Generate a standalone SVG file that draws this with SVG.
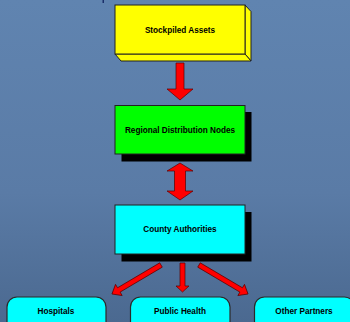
<svg xmlns="http://www.w3.org/2000/svg" width="350" height="322" viewBox="0 0 350 322">
<style>
.lbl{font-family:"Liberation Sans",Arial,sans-serif;font-weight:bold;font-size:8.2px;fill:#000;text-anchor:middle}
.arr{fill:#ff0000;stroke:#5a0000;stroke-width:0.7;stroke-linejoin:miter}
.box{stroke:#222;stroke-width:1}
.shadow{fill:#000}
.pill{fill:#00ffff;stroke:#2a2a2a;stroke-width:1.2}
</style>
<defs>
<linearGradient id="bg" x1="0" y1="0" x2="0" y2="1">
<stop offset="0" stop-color="#6084b0"/>
<stop offset="0.6" stop-color="#5a7ba6"/>
<stop offset="1" stop-color="#4b6990"/>
</linearGradient>
</defs>
<rect width="350" height="322" fill="url(#bg)"/>
<rect x="102.5" y="0" width="1.5" height="3" fill="#1a2f6a"/>

<g id="stockpiled-assets">
<polygon class="box" fill="#ffff00" points="245,5 251,11.5 251,61 245,54"/>
<polygon class="box" fill="#ffff00" points="115,54 245,54 251,61 121,61"/>
<rect class="box" fill="#ffff00" x="115" y="5" width="130" height="49"/>
<text class="lbl" x="180" y="33">Stockpiled Assets</text>
</g>

<g id="regional-distribution-nodes">
<rect class="shadow" x="121.5" y="112" width="130" height="49.5"/>
<rect class="box" fill="#00ff00" x="115" y="105.5" width="130" height="48.5"/>
<text class="lbl" x="180" y="133">Regional Distribution Nodes</text>
</g>

<g id="county-authorities">
<rect class="shadow" x="121.5" y="212" width="130" height="49.5"/>
<rect class="box" fill="#00ffff" x="115" y="205" width="130" height="49"/>
<text class="lbl" x="180" y="232">County Authorities</text>
</g>

<g id="hospitals">
<rect class="pill" x="7" y="297" width="99" height="40" rx="10" ry="10"/>
<text class="lbl" x="56" y="314">Hospitals</text>
</g>

<g id="public-health">
<rect class="pill" x="130.5" y="297" width="99.5" height="40" rx="10" ry="10"/>
<text class="lbl" x="180" y="314">Public Health</text>
</g>

<g id="other-partners">
<rect class="pill" x="254.5" y="297" width="100" height="40" rx="10" ry="10"/>
<text class="lbl" x="304" y="314">Other Partners</text>
</g>

<g id="connectors">
<polygon class="arr" points="176,63 184,63 184,89 193,89 180,100 167,89 176,89"/>
<polygon class="arr" points="180,163 193,171 185.5,171 185.5,191 193,191 180,200 167,191 174.5,191 174.5,171 167,171"/>
<polygon class="arr" points="180,263 185,263 185,286 189,286 182.5,292 176,286 180,286"/>
<polygon class="arr" transform="translate(161,265) rotate(149.4)" points="0,-2.5 49,-2.5 49,-6.5 57,0 49,6.5 49,2.5 0,2.5"/>
<polygon class="arr" transform="translate(199,265) rotate(30.6)" points="0,-2.5 49,-2.5 49,-6.5 57,0 49,6.5 49,2.5 0,2.5"/>
</g>
</svg>
